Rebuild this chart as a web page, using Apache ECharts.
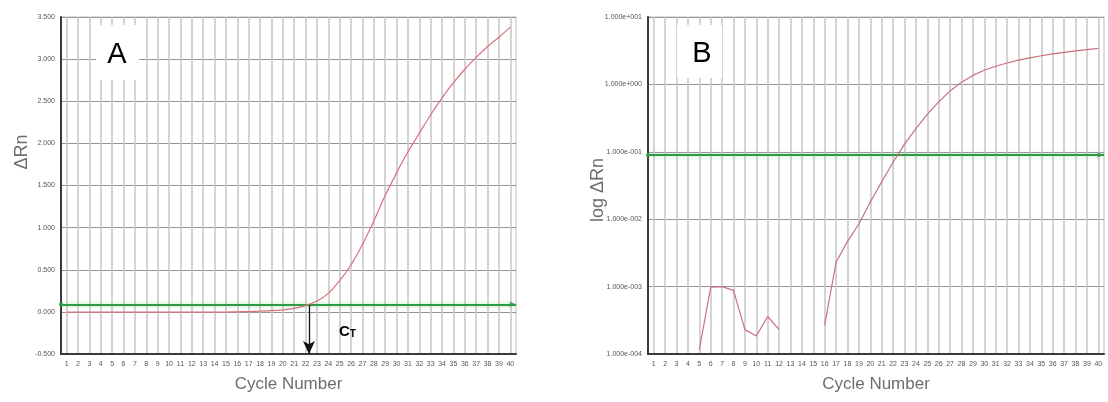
<!DOCTYPE html>
<html><head><meta charset="utf-8">
<script src="https://cdn.jsdelivr.net/npm/echarts@6/dist/echarts.min.js"></script>
<style>html,body{margin:0;padding:0;background:#fff}#c{width:1108px;height:402px}</style>
</head><body><div id="c"></div>
<script>
const cycles = ['1','2','3','4','5','6','7','8','9','10','11','12','13','14','15','16','17','18','19','20',
  '21','22','23','24','25','26','27','28','29','30','31','32','33','34','35','36','37','38','39','40'];
// Panel A: linear ΔRn
const deltaRn = [-0.003,-0.003,-0.003,-0.003,-0.003,-0.003,-0.003,-0.003,-0.003,-0.003,
  -0.003,-0.003,-0.003,-0.003,-0.002,0.000,0.004,0.008,0.014,0.024,
  0.042,0.075,0.13,0.22,0.37,0.56,0.80,1.08,1.38,1.65,
  1.90,2.12,2.34,2.54,2.72,2.88,3.02,3.15,3.26,3.38];
// Panel B: log ΔRn (null = not plotted, ΔRn <= 0)
const logDeltaRn = [null,null,null,null,1.15e-4,9.8e-4,1.0e-3,8.8e-4,2.3e-4,1.85e-4,
  3.6e-4,2.3e-4,null,null,null,2.7e-4,2.3e-3,4.7e-3,8.5e-3,0.018,
  0.036,0.070,0.13,0.22,0.36,0.55,0.80,1.08,1.36,1.62,
  1.86,2.08,2.29,2.48,2.66,2.83,2.99,3.14,3.29,3.42];
const threshold = 0.09;
const ctCycle = 22.3;
const yTicksA = {min:-0.5, max:3.5, interval:0.5};
const yTicksB = {min:1e-4, max:10};

const FONT = 'Liberation Sans, Arial, sans-serif';
const vGrid = {show:true, alignWithLabel:true, lineStyle:{color:'#cacaca', width:1.6}};
const hGrid = {show:true, lineStyle:{color:'#959595', width:1}};
const axisDark = {show:true, onZero:false, lineStyle:{color:'#3a3a3a', width:2}};
const smallLbl = {fontSize:7, color:'#555', fontFamily:FONT};

function catX(gridIndex){
  return {
    type:'category', gridIndex, data:cycles, boundaryGap:true,
    axisLine:axisDark, axisTick:{show:false, alignWithLabel:true},
    axisLabel:Object.assign({margin:7, interval:0}, smallLbl),
    splitLine:vGrid,
    name:'Cycle Number', nameLocation:'middle', nameGap:22,
    nameTextStyle:{fontSize:17, color:'#6e6e6e', fontFamily:FONT}
  };
}
function sci(v){
  const e = Math.round(Math.log10(v));
  const s = e < 0 ? '-' : '+';
  return '1.000e' + s + String(Math.abs(e)).padStart(3,'0');
}
const thrLine = {
  silent:true, animation:false,
  symbol:['circle','arrow'], symbolSize:[4,7],
  itemStyle:{color:'#1f5e2c'},
  lineStyle:{color:'#2f9a46', width:2, type:'solid', shadowBlur:4, shadowColor:'rgba(120,200,120,0.6)'},
  label:{show:false},
  data:[{yAxis:threshold}]
};

const option = {
  animation:false,
  backgroundColor:'#fff',
  grid:[
    {left:61, top:17, width:455, height:337, show:true, borderColor:'#bdbdbd', borderWidth:1, containLabel:false},
    {left:648, top:17, width:456, height:337, show:true, borderColor:'#bdbdbd', borderWidth:1, containLabel:false}
  ],
  xAxis:[
    catX(0), catX(1),
    {type:'value', gridIndex:0, min:0.5, max:40.5, show:false}
  ],
  yAxis:[
    {type:'value', gridIndex:0, min:yTicksA.min, max:yTicksA.max, interval:yTicksA.interval,
     axisLine:axisDark, axisTick:{show:false},
     axisLabel:Object.assign({margin:6, formatter:v=>v.toFixed(3)}, smallLbl),
     splitLine:hGrid},
    {type:'log', gridIndex:1, logBase:10, min:yTicksB.min, max:yTicksB.max,
     axisLine:axisDark, axisTick:{show:false},
     axisLabel:Object.assign({margin:6, formatter:v=>sci(v)}, smallLbl),
     splitLine:hGrid, minorSplitLine:{show:false}}
  ],
  series:[
    {type:'line', xAxisIndex:0, yAxisIndex:0, data:deltaRn, symbol:'none', z:5, smooth:0.3,
     lineStyle:{color:'#d9717a', width:1.2}, markLine:thrLine},
    {type:'line', xAxisIndex:1, yAxisIndex:1, data:logDeltaRn, symbol:'none', connectNulls:false, z:5,
     lineStyle:{color:'#c9707c', width:1.2}, markLine:thrLine},
    {type:'line', xAxisIndex:2, yAxisIndex:0, data:[[ctCycle, threshold]], symbol:'none', lineStyle:{opacity:0},
     markLine:{silent:true, animation:false, label:{show:false},
       lineStyle:{color:'#111', width:1.3, type:'solid'}, itemStyle:{color:'#111'},
       data:[[{coord:[ctCycle, threshold], symbol:'none'},{coord:[ctCycle, yTicksA.min], symbol:'arrow', symbolSize:[9,13]}]]}}
  ],
  graphic:[
    {type:'rect', shape:{x:96, y:25, width:43, height:55}, style:{fill:'#fff'}, z:50},
    {type:'text', x:117, y:55, z:51, style:{text:'A', fontSize:29, fill:'#000', fontFamily:FONT, align:'center', verticalAlign:'middle'}},
    {type:'rect', shape:{x:677, y:25, width:45, height:53}, style:{fill:'#fff'}, z:50},
    {type:'text', x:702, y:54, z:51, style:{text:'B', fontSize:29, fill:'#000', fontFamily:FONT, align:'center', verticalAlign:'middle'}},
    {type:'text', x:22, y:152, rotation:Math.PI/2, z:51, style:{text:'ΔRn', fontSize:18, fill:'#6e6e6e', fontFamily:FONT, align:'center', verticalAlign:'middle'}},
    {type:'text', x:598, y:190, rotation:Math.PI/2, z:51, style:{text:'log ΔRn', fontSize:18, fill:'#6e6e6e', fontFamily:FONT, align:'center', verticalAlign:'middle'}},
    {type:'text', x:339, y:321, z:51, style:{text:'{c|C}{t|T}', fontFamily:FONT,
      rich:{c:{fontSize:15, fontWeight:'bold', fill:'#000', verticalAlign:'bottom', lineHeight:18},
            t:{fontSize:10, fontWeight:'bold', fill:'#000', verticalAlign:'bottom', lineHeight:12, padding:[0,0,0,0]}}}}
  ]
};
const chart = echarts.init(document.getElementById('c'), null, {renderer:'canvas'});
chart.setOption(option);
</script>
</body></html>
